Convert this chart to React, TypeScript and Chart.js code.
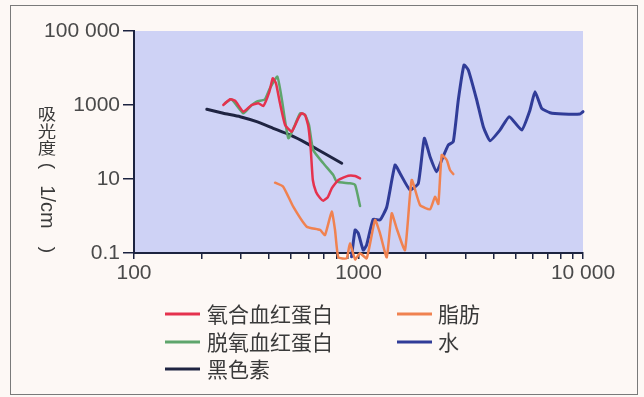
import React, { useEffect, useRef } from "react";
import { Chart, registerables } from "chart.js";

Chart.register(...registerables);

// ---- data (wavelength nm -> absorption coefficient 1/cm) ----
const oxyX = [250, 268, 282, 307, 334, 358, 377, 401, 415, 429, 447, 471, 504, 539, 558, 578, 598, 613, 626, 647, 674, 697, 731, 760, 813, 901, 966, 1016];
const oxyY = [1000, 1426, 1306, 659, 1000, 1111, 940, 2287, 5270, 3857, 1111, 288, 190, 437, 597, 537, 259, 60.8, 9.4, 4.45, 3.06, 2.59, 3.26, 5.6, 9.4, 12.3, 12.1, 10.4];

const deoxyX = [254, 272, 307, 329, 352, 383, 403, 435, 456, 487, 521, 549, 578, 602, 628, 697, 772, 800, 916, 966, 1016];
const deoxyY = [1111, 1426, 597, 900, 1228, 1426, 2827, 5820, 1365, 126, 288, 597, 537, 288, 60.8, 26.6, 12.8, 8.45, 7.65, 6.9, 1.86];

const melaninX = [211, 250, 297, 352, 417, 495, 588, 697, 842];
const melaninY = [765, 597, 483, 354, 234, 155, 92, 51, 26.6];

const fatX = [425, 462, 512, 588, 674, 709, 760, 786, 813, 886, 916, 966, 1016, 1088, 1185, 1247, 1336, 1406, 1478, 1611, 1726, 1879, 2083, 2192, 2268, 2348, 2472, 2556, 2644];
const fatY = [7.94, 6.2, 1.78, 0.514, 0.419, 0.306, 1.31, 0.419, 0.0765, 0.0719, 0.183, 0.0675, 0.098, 0.0719, 0.78, 0.34, 0.0765, 1.18, 0.466, 0.12, 9.4, 1.98, 1.52, 3.32, 2.11, 44.5, 32.6, 17.5, 13.6];

const waterX = [931, 966, 998, 1050, 1087, 1163, 1247, 1336, 1454, 1530, 1696, 1847, 1964, 2083, 2230, 2348, 2512, 2644, 2783, 2951, 3084, 3362, 3597, 3852, 4269, 4696, 5333, 5808, 6113, 6546, 7129, 8172, 9700, 10000];
const waterY = [0.079, 0.419, 0.34, 0.12, 0.165, 0.815, 0.78, 1.75, 23.9, 14.3, 5.04, 7.65, 126, 40, 15.7, 32.6, 83, 102, 1365, 12050, 8830, 1365, 259, 108, 211, 483, 211, 733, 2287, 815, 619, 571, 571, 659];

const seriesLabels = ["氧合血红蛋白", "脱氧血红蛋白", "黑色素", "脂肪", "水"];
const seriesColors = ["#e5324e", "#5ea56c", "#1f2442", "#f08250", "#303c98"];

const X_TICKS = [100, 200, 300, 400, 500, 600, 700, 800, 900, 1000, 2000, 3000, 4000, 5000, 6000, 7000, 8000, 9000, 10000];
const X_MAJOR = [100, 1000, 10000];
const X_LABELS = ["100", "1000", "10 000"];
const Y_TICKS = [0.1, 10, 1000, 100000];
const Y_LABELS = ["0.1", "10", "1000", "100 000"];

const Y_TITLE_UPRIGHT = ["吸", "光", "度"];
const Y_TITLE_OPEN = "(";
const Y_TITLE_UNIT = "1/cm";
const Y_TITLE_CLOSE = ")";

const zip = (xs: number[], ys: number[]) => xs.map((x, i) => ({ x, y: ys[i] }));

const AXIS_COLOR = "#1c2340";
const LABEL_FONT = "'Liberation Sans', Arial, sans-serif";
const CJK_FONT = "'Noto Sans CJK SC', 'Noto Sans', sans-serif";

const decorPlugin = {
  id: "decor",
  beforeDraw(chart: any) {
    const { ctx, width, height, chartArea } = chart;
    ctx.save();
    ctx.fillStyle = "#fdf8f5";
    ctx.fillRect(0, 0, width, height);
    ctx.strokeStyle = "#7a7a7a";
    ctx.lineWidth = 1;
    ctx.strokeRect(10.5, 5.5, 627, 389);
    ctx.fillStyle = "#ced2f5";
    ctx.fillRect(chartArea.left, chartArea.top, chartArea.right - chartArea.left, chartArea.bottom - chartArea.top);
    ctx.restore();
  },
  afterDraw(chart: any) {
    const { ctx } = chart;
    ctx.save();
    // y-axis title (vertical writing)
    ctx.fillStyle = "#3a3a3a";
    const cx = 47;
    Y_TITLE_UPRIGHT.forEach((ch, i) => {
      ctx.save();
      ctx.translate(cx, 113.5 + i * 17);
      ctx.scale(1.15, 1);
      ctx.font = `16px ${CJK_FONT}`;
      ctx.textAlign = "center";
      ctx.textBaseline = "middle";
      ctx.fillText(ch, 0, 0);
      ctx.restore();
    });
    const rot = (text: string, y: number, font: string) => {
      ctx.save();
      ctx.translate(cx, y);
      ctx.rotate(Math.PI / 2);
      ctx.font = font;
      ctx.textAlign = "center";
      ctx.textBaseline = "middle";
      ctx.fillText(text, 0, 0);
      ctx.restore();
    };
    rot(Y_TITLE_OPEN, 166, `19px ${LABEL_FONT}`);
    rot(Y_TITLE_UNIT, 207, `20px ${LABEL_FONT}`);
    rot(Y_TITLE_CLOSE, 250, `19px ${LABEL_FONT}`);
    ctx.restore();

    // legend
    ctx.save();
    const ds = chart.data.datasets;
    const rows = [314, 342, 369];
    const cols = [{ lx: 165, tx: 207 }, { lx: 397, tx: 438 }];
    ds.forEach((d: any, i: number) => {
      const col = cols[Math.floor(i / 3)];
      const y = rows[i % 3];
      ctx.strokeStyle = d.borderColor;
      ctx.lineWidth = 3;
      ctx.beginPath();
      ctx.moveTo(col.lx, y);
      ctx.lineTo(col.lx + 35, y);
      ctx.stroke();
      ctx.fillStyle = "#3a3a3a";
      ctx.font = `21px ${CJK_FONT}`;
      ctx.textAlign = "left";
      ctx.textBaseline = "middle";
      ctx.fillText(d.label, col.tx, y);
    });
    ctx.restore();
  },
};

export default function App() {
  const ref = useRef<HTMLCanvasElement | null>(null);
  useEffect(() => {
    if (!ref.current) return;
    const series = [zip(oxyX, oxyY), zip(deoxyX, deoxyY), zip(melaninX, melaninY), zip(fatX, fatY), zip(waterX, waterY)];
    const chart = new Chart(ref.current, {
      type: "scatter",
      data: {
        datasets: series.map((data, i) => ({
          label: seriesLabels[i],
          data,
          showLine: true,
          borderColor: seriesColors[i],
          backgroundColor: seriesColors[i],
          borderWidth: i === 2 || i === 4 ? 3 : 2.5,
          pointRadius: 0,
          pointHoverRadius: 0,
          tension: 0.15,
          borderJoinStyle: "round",
          borderCapStyle: "round",
          clip: false,
        })),
      },
      options: {
        responsive: false,
        animation: false,
        layout: { padding: { left: 0, top: 31, right: 61, bottom: 0 } },
        plugins: { legend: { display: false }, tooltip: { enabled: false } },
        scales: {
          x: {
            type: "logarithmic",
            min: 100,
            max: 10000,
            afterBuildTicks: (s: any) => {
              s.ticks = X_TICKS.map((v) => ({ value: v }));
            },
            afterFit: (s: any) => {
              s.height = 144;
            },
            ticks: {
              autoSkip: false,
              maxRotation: 0,
              minRotation: 0,
              padding: 2,
              color: "#4a4a4a",
              font: { family: LABEL_FONT, size: 21 },
              callback: (v: any) => {
                const i = X_MAJOR.indexOf(Number(v));
                return i >= 0 ? X_LABELS[i] : "";
              },
            },
            grid: { drawOnChartArea: false, drawTicks: true, tickLength: 6, color: AXIS_COLOR, lineWidth: 1.5 },
            border: { display: true, color: AXIS_COLOR, width: 2 },
          },
          y: {
            type: "logarithmic",
            min: 0.1,
            max: 100000,
            afterBuildTicks: (s: any) => {
              s.ticks = Y_TICKS.map((v) => ({ value: v }));
            },
            afterFit: (s: any) => {
              s.width = 134;
            },
            ticks: {
              autoSkip: false,
              padding: 3,
              color: "#4a4a4a",
              font: { family: LABEL_FONT, size: 21 },
              callback: (v: any) => {
                const i = Y_TICKS.indexOf(Number(v));
                return i >= 0 ? Y_LABELS[i] : "";
              },
            },
            grid: { drawOnChartArea: false, drawTicks: true, tickLength: 11, color: AXIS_COLOR, lineWidth: 1.5 },
            border: { display: true, color: AXIS_COLOR, width: 2 },
          },
        },
      } as any,
      plugins: [decorPlugin],
    });
    return () => chart.destroy();
  }, []);
  return (
    <div style={{ position: "absolute", left: 0, top: 0, width: 644, height: 397 }}>
      <canvas ref={ref} width={644} height={397} style={{ display: "block" }} />
    </div>
  );
}
